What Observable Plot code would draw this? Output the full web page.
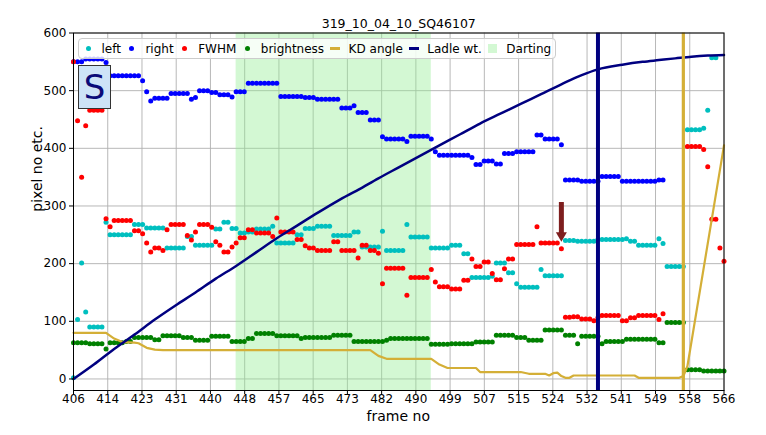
<!DOCTYPE html>
<html><head><meta charset="utf-8">
<script src="https://cdn.jsdelivr.net/npm/d3@7"></script>
<script src="https://cdn.jsdelivr.net/npm/@observablehq/plot@0.6"></script>
<style>
body{margin:0;background:#fff;font-family:"DejaVu Sans",sans-serif;}
#wrap{position:relative;width:766px;height:435px;overflow:hidden;}
#legend{position:absolute;left:78px;top:38px;height:21px;box-sizing:border-box;border:1px solid #cccccc;border-radius:4px;background:rgba(255,255,255,0.8);display:flex;align-items:center;font-size:12px;color:#000;white-space:nowrap;padding:0 4px 0 4px;}
.it{display:flex;align-items:center;margin-right:6px;}
.it:last-child{margin-right:0;}
.h{width:10px;height:10px;position:relative;margin-right:8.5px;display:flex;align-items:center;justify-content:center;}
.dotH{width:5px;height:5px;border-radius:50%;}
.lineH{width:11px;}
.patchH{width:9px;height:9px;}
#sbox{position:absolute;left:78px;top:65px;width:33px;height:44px;box-sizing:border-box;border:1px solid #333;background:#cde3f7;color:#0a0a78;font-size:34px;display:flex;align-items:center;justify-content:center;line-height:1;}
#xlab{position:absolute;left:73px;width:650.5px;top:409px;text-align:center;font-size:14px;line-height:14px;color:#000;}
</style></head>
<body>
<div id="wrap"></div>
<script>
const firstFrame = 406;
const lastFrame = 566;

const leftPx = [
2,103,201,116,90,90,90,90,272,250,
250,250,250,250,250,268,268,268,262,262,
262,262,262,227,227,227,227,227,247,247,
232,232,232,232,232,260,260,272,272,261,
261,253,253,255,255,260,260,260,260,265,
236,236,236,236,236,250,250,261,261,261,
265,265,265,265,249,249,249,249,249,255,
255,229,229,229,229,229,256,223,223,223,
223,223,268,246,246,246,246,246,227,227,
227,227,227,232,232,232,217,217,176,176,
176,176,176,178,201,201,201,184,184,165,
159,159,159,159,159,190,179,179,179,179,
179,240,240,240,239,239,239,239,239,242,
242,242,242,242,242,242,243,239,239,232,
232,232,232,232,243,235,195,195,195,195,
195,432,432,432,432,435,466,557,557,null,null];

const rightPx = [
550,550,550,555,555,555,555,555,549,526,
526,526,526,526,526,526,526,517,498,482,
487,487,487,487,495,495,495,495,495,485,
488,500,500,500,497,497,493,493,493,489,
498,498,498,513,513,513,513,513,513,513,
513,490,490,490,490,490,490,488,488,488,
485,485,485,485,485,485,470,470,470,474,
462,462,462,449,449,449,420,416,416,416,
416,416,412,421,421,421,421,421,416,394,
388,388,388,388,388,388,388,388,384,372,
372,378,378,378,373,373,391,391,391,394,
394,394,394,394,423,423,416,416,416,416,
406,345,345,345,345,343,343,343,343,343,
351,351,351,351,351,343,343,343,343,343,
343,343,343,343,345,345,null,null,null,null,
null,null,null,null,null,null,null,null,null,null,null];

const fwhm = [
550,448,350,439,466,466,466,466,278,264,
275,275,275,275,275,257,257,252,236,220,
227,227,223,259,268,268,268,268,249,241,
255,268,268,268,263,238,232,220,220,229,
236,245,245,259,259,253,253,253,253,247,
279,255,255,255,255,242,242,231,227,227,
223,223,223,223,238,238,223,223,223,223,
210,232,232,223,223,218,165,192,192,192,
192,192,145,176,176,176,176,176,190,168,
160,160,160,156,156,156,171,171,208,195,
195,203,203,183,172,172,191,208,208,233,
233,233,233,233,264,236,236,236,236,236,
226,107,107,108,108,104,104,104,101,106,
110,110,110,110,110,101,101,106,106,110,
110,110,110,110,103,113,null,null,null,null,
null,403,403,403,403,398,368,277,277,227,204];

const brightness = [
63,63,63,63,61,61,61,61,52,63,
63,63,63,65,65,72,72,72,72,72,
68,68,75,75,75,75,75,72,72,72,
67,67,67,67,74,74,74,74,74,65,
65,65,65,70,70,79,79,79,79,79,
75,75,75,75,75,75,70,72,72,72,
72,72,72,72,76,76,76,76,76,65,
65,65,65,65,65,65,65,67,70,70,
70,70,70,70,70,70,70,70,60,60,
60,60,60,61,61,61,61,61,61,64,
64,64,64,64,76,76,76,76,76,72,
72,72,67,67,67,67,85,85,85,85,
85,76,76,76,61,74,74,74,74,74,
61,65,65,65,65,65,69,69,69,69,
69,69,69,69,63,63,98,98,98,98,
98,16,16,16,16,14,14,14,14,14,14];

const kdFrames = [406,414,416,418,421,422,424,426,428,479,481,483,494,496,498,505,506,516,518,522,523,524,525,526,527,528,529,544,545,555,556,557,566];
const kdAngle  = [80,80,70,64,63,62,54,51,50,50,40,35,35,25,19,19,12,12,9,9,6,10,11,5,2,2,6,6,2,2,5,22,405];

const ladleFrames = [406,411,416,421,426,431,436,441,446,451,456,461,466,471,476,481,486,491,496,501,506,511,516,521,526,531,535,541,546,550,554,558,562,566];
const ladleWt     = [0,25,52,77,103,127,150,174,196,220,244,266,288,309,328,348,367,386,405,424,443,460,477,494,511,527,537,545,550,553,556,559,561,562];

const dartingStart = 446, dartingEnd = 494;
const ladleMarkFrame = 535;
const kdMarkFrame = 556;
const arrowFrame = 526, arrowFrom = 306, arrowTo = 238;

const xTickLabels = [406,414,423,431,440,448,457,465,473,482,490,499,507,515,524,532,541,549,558,566];
const yTicks = [0,100,200,300,400,500,600];

const titleText = "319_10_04_10_SQ46107";
const xLabel = "frame no";
const yLabel = "pixel no etc.";

// build tables
const rows = leftPx.map((_, i) => ({
  frame: firstFrame + i, left: leftPx[i], right: rightPx[i], fwhm: fwhm[i], bright: brightness[i]
}));
const kd = kdFrames.map((f, i) => ({frame: f, v: kdAngle[i]}));
const ladle = ladleFrames.map((f, i) => ({frame: f, v: ladleWt[i]}));
const xTickPos = xTickLabels.map((_, i) => firstFrame + i * (lastFrame - firstFrame) / (xTickLabels.length - 1));
const tickLabelOf = new Map(xTickPos.map((p, i) => [p, xTickLabels[i]]));

const downTriangle = {
  draw(ctx, size) {
    const y = Math.sqrt(size / (3 * Math.sqrt(3)));
    ctx.moveTo(0, 2 * y);
    ctx.lineTo(-Math.sqrt(3) * y, -y);
    ctx.lineTo(Math.sqrt(3) * y, -y);
    ctx.closePath();
  }
};

const r = 2.5;
const chart = Plot.plot({
  width: 766, height: 435,
  marginLeft: 73, marginRight: 42.5, marginTop: 32.5, marginBottom: 45,
  style: {fontFamily: "DejaVu Sans", fontSize: "12px", color: "#000", background: "#fff"},
  x: {domain: [firstFrame, lastFrame], label: null},
  y: {domain: [-20, 600], label: null},
  marks: [
    Plot.ruleX(xTickPos, {stroke: "#b0b0b0", strokeWidth: 0.9}),
    Plot.ruleY(yTicks, {stroke: "#b0b0b0", strokeWidth: 0.9}),
    Plot.rect([{a: dartingStart, b: dartingEnd}], {x1: "a", x2: "b", fill: "#90ee90", fillOpacity: 0.4}),
    Plot.dot(rows.filter(d => d.left != null), {x: "frame", y: "left", r, fill: "#00bfbf", stroke: "none"}),
    Plot.dot(rows.filter(d => d.right != null), {x: "frame", y: "right", r, fill: "#0000ff", stroke: "none"}),
    Plot.dot(rows.filter(d => d.fwhm != null), {x: "frame", y: "fwhm", r, fill: "#ff0000", stroke: "none"}),
    Plot.dot(rows.filter(d => d.bright != null), {x: "frame", y: "bright", r, fill: "#008000", stroke: "none"}),
    Plot.line(kd, {x: "frame", y: "v", stroke: "#d4af37", strokeWidth: 2.2}),
    Plot.line(ladle, {x: "frame", y: "v", stroke: "#000080", strokeWidth: 2.5, curve: "monotone-x"}),
    Plot.ruleX([ladleMarkFrame], {stroke: "#000080", strokeWidth: 4}),
    Plot.ruleX([kdMarkFrame], {stroke: "#d4af37", strokeWidth: 3.2}),
    Plot.ruleX([{x: arrowFrame, a: arrowFrom, b: arrowTo}], {x: "x", y1: "a", y2: "b", stroke: "#7e1e1e", strokeWidth: 5, insetBottom: 8}),
    Plot.dot([{x: arrowFrame, y: arrowTo}], {x: "x", y: "y", symbol: downTriangle, r: 4.1, fill: "#7e1e1e", stroke: "none", dy: -6.3}),
    Plot.frame({stroke: "#000", strokeWidth: 1}),
    Plot.axisX(xTickPos, {tickFormat: d => tickLabelOf.get(d), tickSize: 4, tickPadding: 0, fontSize: 12, label: null}),
    Plot.axisY(yTicks, {tickSize: 4, tickPadding: 3, fontSize: 12, label: null}),
    Plot.text([titleText], {text: d => d, frameAnchor: "top", dy: -14, fontSize: 12.5}),
    Plot.text([yLabel], {text: d => d, frameAnchor: "left", dx: -36, rotate: -90, fontSize: 14})
  ]
});

const wrap = document.getElementById("wrap");
wrap.appendChild(chart);

const xl = document.createElement("div");
xl.id = "xlab"; xl.textContent = xLabel;
wrap.appendChild(xl);

// legend
const legendItems = [
  {label: "left", kind: "dot", color: "#00bfbf"},
  {label: "right", kind: "dot", color: "#0000ff"},
  {label: "FWHM", kind: "dot", color: "#ff0000"},
  {label: "brightness", kind: "dot", color: "#008000"},
  {label: "KD angle", kind: "line", color: "#d4af37", w: 2.2},
  {label: "Ladle wt.", kind: "line", color: "#000080", w: 2.5},
  {label: "Darting", kind: "patch", color: "rgba(144,238,144,0.4)"}
];
const lg = document.createElement("div");
lg.id = "legend";
for (const it of legendItems) {
  const d = document.createElement("div"); d.className = "it";
  const h = document.createElement("div"); h.className = "h";
  const m = document.createElement("div");
  if (it.kind === "dot") { m.className = "dotH"; m.style.background = it.color; }
  else if (it.kind === "line") { m.className = "lineH"; m.style.height = it.w + "px"; m.style.background = it.color; }
  else { m.className = "patchH"; m.style.background = it.color; }
  h.appendChild(m);
  const t = document.createElement("span"); t.textContent = it.label;
  d.appendChild(h); d.appendChild(t);
  lg.appendChild(d);
}
wrap.appendChild(lg);

const sb = document.createElement("div");
sb.id = "sbox"; sb.textContent = "S";
wrap.appendChild(sb);
</script>
</body></html>
